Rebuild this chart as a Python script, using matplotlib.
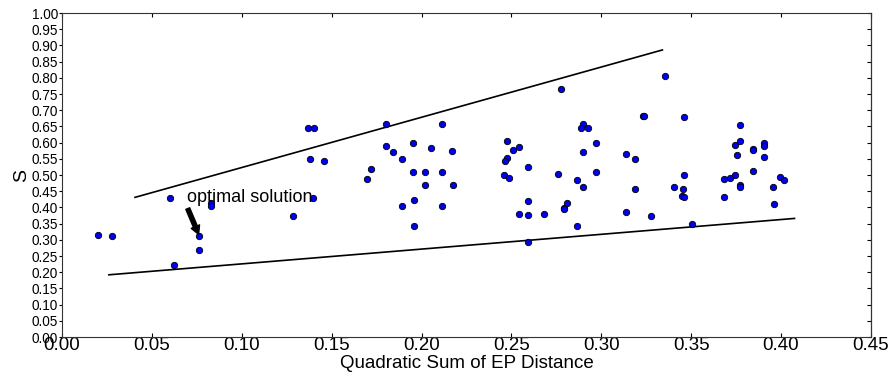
import numpy as np
import matplotlib
matplotlib.use("Agg")
import matplotlib.pyplot as plt

plt.rcParams["font.family"] = ["Liberation Sans", "DejaVu Sans"]

# points (x: quadratic sum of EP distance, y: S)
xs = [0.0199, 0.028, 0.0599, 0.0621, 0.076, 0.076, 0.083, 0.083, 0.1287,
      0.1368, 0.140, 0.1378, 0.1456, 0.1398, 0.1697, 0.172, 0.180, 0.180,
      0.184, 0.189, 0.189, 0.195, 0.195, 0.196, 0.196, 0.2017, 0.2017,
      0.205, 0.2114, 0.2114, 0.2114, 0.217, 0.2177,
      0.2473, 0.251, 0.2542, 0.2473, 0.2466, 0.2457, 0.2488, 0.2592, 0.2592,
      0.2542, 0.2592, 0.2681, 0.2592, 0.2777, 0.2761, 0.279, 0.2792, 0.2809,
      0.2863, 0.2863, 0.2898, 0.2889, 0.2928, 0.2898, 0.2898, 0.2968, 0.2968,
      0.3354, 0.3234, 0.324, 0.3458, 0.3139, 0.3187, 0.3187, 0.3139, 0.3278,
      0.3402, 0.3458, 0.3452, 0.3449, 0.3458, 0.3504,
      0.3771, 0.3745, 0.3771, 0.3755, 0.3842, 0.3842, 0.3905, 0.3905, 0.3905,
      0.3842, 0.3682, 0.3716, 0.3745, 0.3771, 0.3771, 0.3682, 0.3953, 0.3994,
      0.4016, 0.3962]
ys = [0.315, 0.312, 0.428, 0.221, 0.311, 0.269, 0.414, 0.404, 0.374,
      0.646, 0.646, 0.548, 0.542, 0.430, 0.488, 0.518, 0.656, 0.590,
      0.571, 0.550, 0.405, 0.599, 0.508, 0.422, 0.343, 0.508, 0.468,
      0.583, 0.656, 0.508, 0.403, 0.573, 0.469,
      0.606, 0.576, 0.586, 0.553, 0.543, 0.500, 0.490, 0.524, 0.420,
      0.381, 0.377, 0.381, 0.294, 0.765, 0.503, 0.399, 0.396, 0.414,
      0.485, 0.343, 0.658, 0.646, 0.644, 0.571, 0.462, 0.598, 0.508,
      0.806, 0.683, 0.683, 0.680, 0.565, 0.549, 0.458, 0.387, 0.373,
      0.463, 0.499, 0.457, 0.434, 0.431, 0.348,
      0.653, 0.592, 0.604, 0.561, 0.581, 0.577, 0.598, 0.590, 0.556,
      0.511, 0.489, 0.491, 0.500, 0.468, 0.462, 0.431, 0.463, 0.494,
      0.484, 0.411]

# bounding lines
upper_x = [0.0406, 0.334]
upper_y = [0.431, 0.886]
lower_x = [0.0261, 0.4075]
lower_y = [0.192, 0.366]

best = (0.076, 0.317)
label_xy = (0.0693, 0.405)

fig = plt.figure(figsize=(8.96, 3.76), dpi=100)
ax = fig.add_axes([0.0692, 0.1037, 0.9028, 0.8617])

ax.plot(upper_x, upper_y, color="black", lw=1.2)
ax.plot(lower_x, lower_y, color="black", lw=1.2)
ax.plot(xs, ys, "o", color="#0000ee", mec="black", mew=0.6, ms=4.6)

ax.annotate("optimal solution", xy=best, xytext=label_xy,
            fontsize=13, ha="left", va="bottom",
            arrowprops=dict(facecolor="black", edgecolor="black",
                            width=3, headwidth=6.5, headlength=6, shrink=0.0))

ax.set_xlim(0, 0.45)
ax.set_ylim(0, 1.0)
ax.set_xticks(np.arange(0, 0.451, 0.05))
ax.set_yticks(np.arange(0, 1.001, 0.05))
ax.set_xticklabels([f"{v:.2f}" for v in np.arange(0, 0.451, 0.05)], fontsize=13.5)
ax.set_yticklabels([f"{v:.2f}" for v in np.arange(0, 1.001, 0.05)], fontsize=9.8)
ax.tick_params(axis="x", direction="in", top=True, length=3, pad=0)
ax.tick_params(axis="y", which="both", left=True, right=False,
               direction="out", length=2.5, pad=0.5)
ax.yaxis.set_ticks_position("left")
# inward ticks on the right spine
ax2 = ax.secondary_yaxis("right")
ax2.set_yticks(np.arange(0, 1.001, 0.05))
ax2.tick_params(direction="in", length=3, labelright=False)

for s in ax.spines.values():
    s.set_color("#333333")

ax.set_xlabel("Quadratic Sum of EP Distance", fontsize=13.5, labelpad=1)
ax.set_ylabel("S", fontsize=14, labelpad=1)

fig.savefig("out.png", dpi=100)
